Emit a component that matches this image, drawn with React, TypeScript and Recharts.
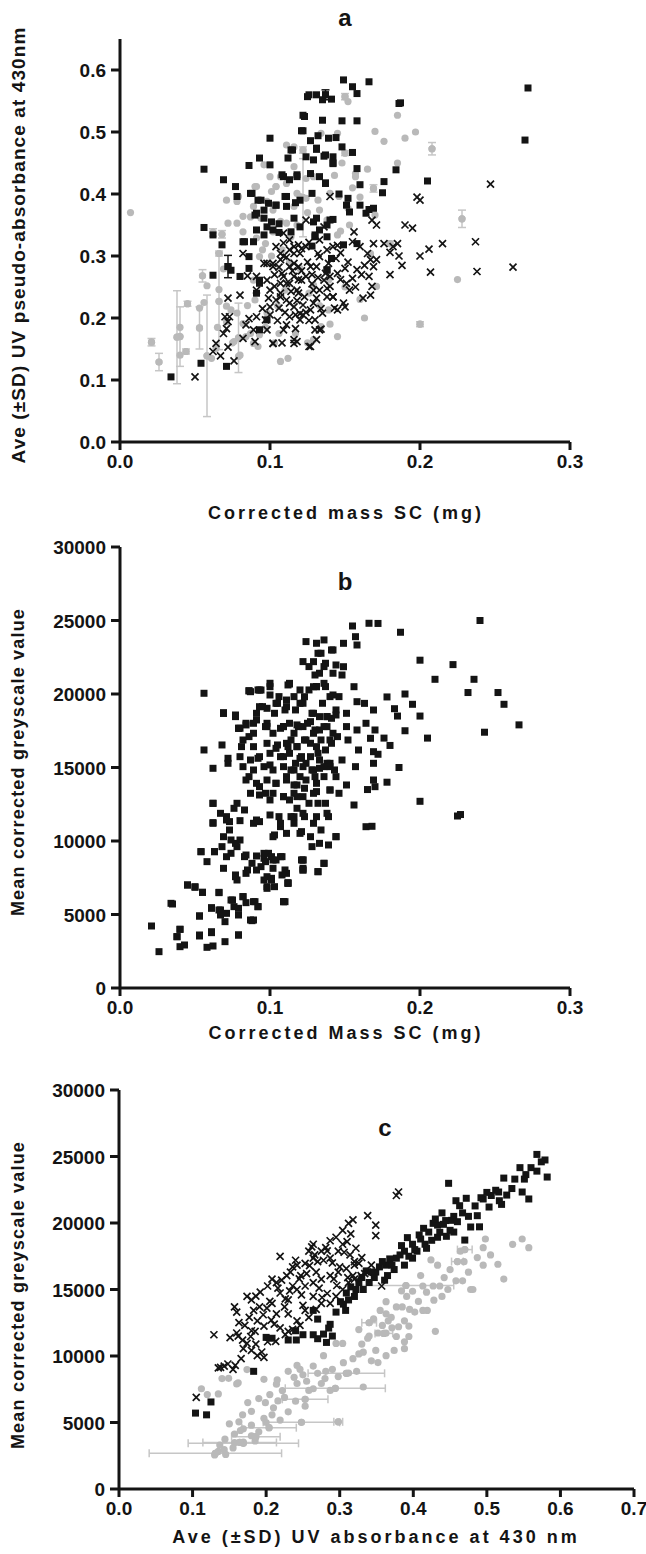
import {ScatterChart, Scatter, XAxis, YAxis, ErrorBar} from 'recharts';

// [x, y] or [x, y, sd]
type Pt = number[];

// panel a: corrected mass SC vs UV pseudo-absorbance
const aSquares: Pt[] = [
    [0.056, 0.44], [0.069, 0.423], [0.077, 0.412], [0.086, 0.446], [0.093, 0.458], [0.1, 0.49], [0.122, 0.502],
    [0.125, 0.557], [0.131, 0.56], [0.135, 0.552], [0.141, 0.553], [0.122, 0.527], [0.135, 0.519], [0.115, 0.471],
    [0.124, 0.46], [0.131, 0.474], [0.137, 0.463], [0.142, 0.449], [0.056, 0.346], [0.062, 0.334], [0.068, 0.318],
    [0.072, 0.283, 0.018], [0.074, 0.277], [0.062, 0.269], [0.078, 0.396], [0.087, 0.401], [0.092, 0.39], [0.096, 0.374],
    [0.091, 0.369], [0.098, 0.347], [0.102, 0.342], [0.096, 0.334], [0.089, 0.323], [0.083, 0.323], [0.104, 0.382],
    [0.11, 0.396], [0.113, 0.423], [0.118, 0.431], [0.108, 0.431], [0.127, 0.433], [0.12, 0.39], [0.128, 0.401],
    [0.133, 0.428], [0.137, 0.417], [0.116, 0.361], [0.12, 0.347], [0.129, 0.355], [0.13, 0.331], [0.133, 0.342],
    [0.14, 0.358], [0.093, 0.256], [0.091, 0.24], [0.098, 0.197], [0.093, 0.181], [0.071, 0.122], [0.054, 0.127],
    [0.034, 0.105], [0.086, 0.299], [0.08, 0.267], [0.138, 0.278], [0.149, 0.584], [0.155, 0.573], [0.166, 0.581],
    [0.158, 0.562], [0.126, 0.56], [0.137, 0.56, 0.008], [0.186, 0.546], [0.123, 0.525], [0.148, 0.518], [0.158, 0.518],
    [0.121, 0.502], [0.127, 0.486], [0.132, 0.494], [0.139, 0.49], [0.144, 0.491], [0.148, 0.476], [0.155, 0.467],
    [0.114, 0.471], [0.112, 0.458], [0.131, 0.472], [0.129, 0.455], [0.136, 0.461], [0.142, 0.46], [0.142, 0.45],
    [0.184, 0.439], [0.1, 0.447], [0.109, 0.428], [0.118, 0.428], [0.137, 0.418], [0.158, 0.441], [0.16, 0.415],
    [0.176, 0.42], [0.175, 0.402], [0.152, 0.393], [0.146, 0.4], [0.151, 0.382], [0.153, 0.371], [0.16, 0.382],
    [0.166, 0.375], [0.169, 0.377], [0.164, 0.369], [0.088, 0.401], [0.094, 0.39], [0.099, 0.385], [0.111, 0.396],
    [0.104, 0.382], [0.111, 0.38], [0.117, 0.386], [0.09, 0.366], [0.096, 0.361], [0.101, 0.355], [0.106, 0.352],
    [0.114, 0.339], [0.131, 0.361], [0.138, 0.35], [0.142, 0.359], [0.091, 0.342], [0.106, 0.338], [0.13, 0.334],
    [0.138, 0.331], [0.082, 0.323], [0.149, 0.318], [0.158, 0.32], [0.128, 0.316], [0.141, 0.296], [0.138, 0.277],
    [0.086, 0.28], [0.093, 0.261], [0.272, 0.571], [0.27, 0.487], [0.205, 0.421], [0.187, 0.547],
];

const aCircles: Pt[] = [
    [0.007, 0.37], [0.021, 0.161, 0.006], [0.026, 0.129, 0.014], [0.038, 0.169, 0.075], [0.04, 0.17, 0.048],
    [0.04, 0.185], [0.04, 0.14], [0.044, 0.146, 0.004], [0.045, 0.223, 0.004], [0.053, 0.216], [0.053, 0.184, 0.034],
    [0.055, 0.268, 0.01], [0.058, 0.252], [0.056, 0.225], [0.058, 0.139, 0.098], [0.061, 0.135], [0.064, 0.151],
    [0.066, 0.227, 0.078], [0.066, 0.246], [0.066, 0.304, 0.004], [0.062, 0.338, 0.006], [0.068, 0.335, 0.006],
    [0.069, 0.279], [0.071, 0.219], [0.074, 0.213], [0.078, 0.208], [0.079, 0.168, 0.056], [0.076, 0.162], [0.08, 0.14],
    [0.065, 0.185], [0.071, 0.194], [0.082, 0.191], [0.084, 0.17], [0.087, 0.175], [0.089, 0.159], [0.092, 0.154],
    [0.071, 0.39], [0.078, 0.388], [0.072, 0.353], [0.078, 0.353], [0.082, 0.339], [0.087, 0.363], [0.089, 0.38],
    [0.091, 0.412], [0.096, 0.447], [0.1, 0.428], [0.101, 0.404], [0.104, 0.412], [0.107, 0.428], [0.111, 0.479],
    [0.116, 0.444], [0.111, 0.417], [0.098, 0.388], [0.102, 0.374], [0.094, 0.361], [0.091, 0.329], [0.097, 0.32],
    [0.102, 0.339], [0.111, 0.353], [0.12, 0.396], [0.116, 0.38], [0.124, 0.425], [0.129, 0.428], [0.122, 0.471, 0.005],
    [0.122, 0.394, 0.063], [0.093, 0.299], [0.099, 0.288], [0.089, 0.261], [0.09, 0.229], [0.098, 0.208], [0.106, 0.175],
    [0.093, 0.173], [0.107, 0.13], [0.112, 0.135], [0.129, 0.165], [0.134, 0.186], [0.139, 0.213], [0.14, 0.401],
    [0.138, 0.358], [0.133, 0.374], [0.116, 0.476], [0.15, 0.557, 0.005], [0.152, 0.549], [0.134, 0.498], [0.145, 0.498],
    [0.17, 0.501], [0.176, 0.485], [0.185, 0.527], [0.15, 0.466, 0.004], [0.169, 0.409, 0.006], [0.157, 0.433],
    [0.157, 0.428], [0.146, 0.396], [0.152, 0.377], [0.124, 0.393], [0.118, 0.401], [0.104, 0.412], [0.09, 0.412],
    [0.079, 0.396], [0.082, 0.364], [0.107, 0.356], [0.114, 0.331], [0.145, 0.334], [0.17, 0.366], [0.18, 0.32, 0.004],
    [0.167, 0.304], [0.171, 0.251], [0.129, 0.253], [0.139, 0.261], [0.079, 0.138], [0.075, 0.16], [0.197, 0.5],
    [0.208, 0.473, 0.01], [0.228, 0.36, 0.014], [0.225, 0.262], [0.2, 0.19, 0.004], [0.19, 0.49], [0.185, 0.45],
    [0.095, 0.31], [0.101, 0.3], [0.108, 0.31], [0.113, 0.29], [0.118, 0.35], [0.125, 0.37], [0.132, 0.39],
    [0.143, 0.43], [0.148, 0.45], [0.155, 0.41], [0.16, 0.395], [0.165, 0.44], [0.147, 0.34], [0.153, 0.35],
    [0.12, 0.28], [0.126, 0.24], [0.133, 0.22], [0.14, 0.19], [0.145, 0.17], [0.15, 0.25], [0.16, 0.23], [0.163, 0.2],
    [0.105, 0.22], [0.11, 0.245], [0.085, 0.22], [0.097, 0.185], [0.103, 0.16], [0.117, 0.175], [0.125, 0.16],
];

const aCrosses: Pt[] = [
    [0.05, 0.105], [0.062, 0.146], [0.067, 0.139], [0.076, 0.131], [0.072, 0.153], [0.064, 0.159], [0.069, 0.175],
    [0.072, 0.194], [0.07, 0.202], [0.073, 0.202], [0.071, 0.183], [0.072, 0.232], [0.08, 0.237], [0.082, 0.167],
    [0.084, 0.189], [0.089, 0.181], [0.09, 0.162], [0.091, 0.202], [0.086, 0.199], [0.082, 0.304], [0.085, 0.268],
    [0.091, 0.245], [0.091, 0.267], [0.096, 0.288], [0.097, 0.197], [0.098, 0.181], [0.1, 0.205], [0.102, 0.159],
    [0.103, 0.251], [0.104, 0.229], [0.107, 0.24], [0.109, 0.181], [0.111, 0.189], [0.108, 0.272], [0.111, 0.256],
    [0.113, 0.283], [0.116, 0.165], [0.117, 0.183], [0.116, 0.218], [0.116, 0.304], [0.119, 0.283], [0.121, 0.261],
    [0.122, 0.205], [0.122, 0.221], [0.119, 0.24], [0.124, 0.358], [0.127, 0.283], [0.129, 0.245], [0.13, 0.197],
    [0.131, 0.165], [0.133, 0.181], [0.127, 0.154], [0.132, 0.304], [0.133, 0.326], [0.136, 0.347], [0.137, 0.272],
    [0.138, 0.234], [0.14, 0.267], [0.142, 0.315], [0.142, 0.234], [0.143, 0.216], [0.14, 0.396], [0.109, 0.337],
    [0.113, 0.326], [0.116, 0.315], [0.107, 0.304], [0.102, 0.283], [0.098, 0.261], [0.1, 0.245], [0.106, 0.216],
    [0.111, 0.229], [0.12, 0.197], [0.113, 0.202], [0.156, 0.339], [0.169, 0.32], [0.168, 0.358], [0.171, 0.35],
    [0.145, 0.317], [0.155, 0.323], [0.16, 0.315], [0.165, 0.304], [0.167, 0.294], [0.171, 0.294], [0.169, 0.283],
    [0.166, 0.267], [0.168, 0.251], [0.167, 0.237], [0.162, 0.232], [0.151, 0.256], [0.155, 0.264], [0.158, 0.278],
    [0.145, 0.272], [0.15, 0.28], [0.14, 0.251], [0.138, 0.248], [0.142, 0.234], [0.149, 0.224], [0.15, 0.218],
    [0.145, 0.213], [0.18, 0.306], [0.182, 0.315], [0.185, 0.32], [0.13, 0.181], [0.134, 0.182], [0.126, 0.154],
    [0.118, 0.162], [0.116, 0.159], [0.108, 0.16], [0.102, 0.159], [0.129, 0.224], [0.133, 0.245], [0.136, 0.261],
    [0.131, 0.283], [0.133, 0.299], [0.138, 0.31], [0.124, 0.315], [0.12, 0.304], [0.116, 0.288], [0.113, 0.31],
    [0.109, 0.321], [0.104, 0.315], [0.107, 0.294], [0.102, 0.288], [0.098, 0.288], [0.109, 0.267], [0.113, 0.256],
    [0.118, 0.245], [0.123, 0.234], [0.127, 0.213], [0.12, 0.207], [0.113, 0.224], [0.107, 0.234], [0.1, 0.218],
    [0.124, 0.267], [0.116, 0.267], [0.107, 0.256], [0.247, 0.416], [0.237, 0.323], [0.238, 0.275], [0.262, 0.282],
    [0.206, 0.311], [0.207, 0.274], [0.198, 0.395], [0.2, 0.39], [0.19, 0.35], [0.195, 0.345], [0.215, 0.32],
    [0.186, 0.3], [0.188, 0.285], [0.176, 0.32], [0.18, 0.27], [0.2, 0.3], [0.111, 0.298], [0.115, 0.276],
    [0.119, 0.262], [0.125, 0.29], [0.128, 0.255], [0.121, 0.312], [0.126, 0.322], [0.114, 0.243], [0.118, 0.228],
    [0.124, 0.209], [0.131, 0.232], [0.135, 0.208], [0.139, 0.288], [0.144, 0.296], [0.147, 0.305], [0.152, 0.29],
    [0.153, 0.245], [0.147, 0.262], [0.103, 0.27], [0.106, 0.282], [0.099, 0.232], [0.095, 0.215], [0.105, 0.196],
    [0.11, 0.209], [0.117, 0.205], [0.126, 0.196], [0.134, 0.215], [0.157, 0.25], [0.161, 0.27], [0.163, 0.285],
    [0.128, 0.27], [0.132, 0.265], [0.121, 0.276], [0.109, 0.3], [0.119, 0.318],
];

// panel b: corrected mass SC vs greyscale
const bSquares: Pt[] = [
    [0.021, 4218], [0.026, 2472], [0.035, 5715], [0.038, 3493], [0.04, 3992], [0.04, 2812], [0.043, 2926], [0.045, 7008],
    [0.05, 6849], [0.053, 4899], [0.053, 3538], [0.055, 6509], [0.054, 9276], [0.056, 20049], [0.056, 16193],
    [0.058, 8596], [0.058, 2767], [0.061, 5466], [0.061, 3765], [0.062, 14946], [0.062, 12565], [0.062, 11250],
    [0.062, 2858], [0.063, 9276], [0.066, 6486], [0.066, 5307], [0.067, 4967], [0.068, 16533], [0.068, 9616],
    [0.069, 18688], [0.069, 8142], [0.07, 4513], [0.07, 3152], [0.071, 11657], [0.072, 15626], [0.072, 15286],
    [0.073, 11318], [0.073, 10750], [0.074, 10070], [0.074, 9163], [0.075, 5987], [0.076, 5534], [0.077, 18461],
    [0.077, 7689], [0.078, 12565], [0.078, 9616], [0.079, 3606], [0.079, 5420], [0.078, 7348], [0.08, 17667],
    [0.08, 11385], [0.081, 16420], [0.082, 6214], [0.083, 12111], [0.083, 8936], [0.084, 5806], [0.085, 8029],
    [0.086, 20208], [0.086, 14379], [0.086, 17101], [0.088, 4581], [0.088, 8482], [0.089, 11204], [0.09, 5874],
    [0.091, 18234], [0.091, 8981], [0.092, 15626], [0.092, 20276], [0.092, 5534], [0.093, 13699], [0.093, 11318],
    [0.094, 8255], [0.095, 19142], [0.096, 8823], [0.097, 8596], [0.097, 13245], [0.098, 18008], [0.098, 6895],
    [0.099, 9163], [0.1, 20730], [0.1, 12792], [0.1, 15173], [0.101, 8936], [0.101, 7348], [0.102, 8142],
    [0.103, 10410], [0.103, 18688], [0.104, 13926], [0.104, 8709], [0.105, 16533], [0.106, 19822], [0.106, 11657],
    [0.107, 17667], [0.107, 10977], [0.108, 8936], [0.108, 7689], [0.109, 15740], [0.109, 13018], [0.109, 5874],
    [0.11, 18915], [0.11, 8029], [0.111, 14379], [0.112, 16420], [0.112, 20616], [0.112, 7167], [0.113, 12792],
    [0.113, 18008], [0.114, 14833], [0.114, 11657], [0.114, 16874], [0.116, 19822], [0.116, 11204], [0.116, 13812],
    [0.117, 15286], [0.117, 18915], [0.118, 16420], [0.118, 12225], [0.118, 13018], [0.119, 17781], [0.12, 20276],
    [0.12, 14379], [0.121, 10637], [0.121, 15740], [0.121, 8709], [0.122, 8029], [0.122, 19369], [0.122, 22204],
    [0.123, 13586], [0.123, 16874], [0.123, 11657], [0.124, 23565], [0.124, 15286], [0.125, 18008], [0.126, 20276],
    [0.126, 21864], [0.126, 12565], [0.127, 16647], [0.128, 14833], [0.128, 18688], [0.128, 9616], [0.129, 11204],
    [0.13, 17554], [0.13, 14379], [0.131, 23451], [0.131, 20503], [0.131, 13359], [0.132, 12565], [0.132, 15966],
    [0.132, 7915], [0.133, 21411], [0.133, 18461], [0.133, 14946], [0.134, 10750], [0.134, 22771], [0.134, 16874],
    [0.135, 19369], [0.136, 23678], [0.136, 21864], [0.136, 14379], [0.137, 16193], [0.137, 12565], [0.137, 20503],
    [0.138, 17781], [0.138, 15286], [0.139, 11657], [0.139, 9730], [0.14, 19822], [0.14, 13472], [0.141, 18348],
    [0.141, 16647], [0.142, 22997], [0.142, 21411], [0.143, 14833], [0.144, 10297], [0.144, 18915], [0.145, 17101],
    [0.146, 13245], [0.146, 19822], [0.155, 24627], [0.166, 24811], [0.157, 23899], [0.158, 23334], [0.149, 23448],
    [0.141, 22994], [0.132, 22770], [0.129, 22200], [0.137, 22091], [0.144, 21974], [0.149, 21857], [0.148, 21293],
    [0.13, 21293], [0.156, 20497], [0.113, 20726], [0.136, 20726], [0.087, 20157], [0.094, 20270], [0.1, 19933],
    [0.129, 20497], [0.142, 19933], [0.158, 19477], [0.163, 19363], [0.169, 18912], [0.151, 18687], [0.144, 18572],
    [0.138, 18460], [0.105, 19363], [0.111, 19590], [0.093, 19137], [0.077, 18572], [0.069, 18687], [0.084, 17896],
    [0.079, 17668], [0.089, 18008], [0.098, 17783], [0.109, 17783], [0.118, 17896], [0.127, 18119], [0.133, 17552],
    [0.142, 17329], [0.151, 17783], [0.158, 17552], [0.164, 18008], [0.17, 17552], [0.167, 16987], [0.169, 16076],
    [0.152, 16871], [0.159, 16191], [0.169, 15285], [0.157, 15058], [0.148, 15511], [0.14, 15058], [0.144, 14377],
    [0.151, 13811], [0.14, 13470], [0.164, 10973], [0.169, 14150], [0.17, 13695], [0.156, 12449], [0.144, 10294],
    [0.136, 8483], [0.132, 7912], [0.122, 8143], [0.122, 8708], [0.112, 7121], [0.109, 5871], [0.101, 7462],
    [0.087, 4626], [0.098, 7572], [0.24, 25000], [0.2, 22300], [0.21, 21000], [0.222, 22000], [0.232, 20100],
    [0.236, 21000], [0.243, 17400], [0.252, 20100], [0.256, 19300], [0.266, 17900], [0.2, 12700], [0.225, 11700],
    [0.227, 11800], [0.19, 20000], [0.185, 18500], [0.187, 24200], [0.172, 24800], [0.178, 19800], [0.183, 19000],
    [0.176, 17000], [0.168, 11000], [0.165, 13500], [0.18, 16500], [0.19, 17500], [0.195, 19300], [0.2, 18500],
    [0.205, 17000], [0.186, 15000], [0.172, 15900], [0.178, 14000],
    [0.086, 20226], [0.093, 20270], [0.1, 20497], [0.113, 20680], [0.123, 19817], [0.131, 20497], [0.069, 18728],
    [0.077, 18524], [0.091, 18687], [0.098, 19027], [0.104, 19367], [0.111, 19137], [0.12, 19367], [0.129, 18687],
    [0.138, 18460], [0.079, 17668], [0.084, 18008], [0.089, 17329], [0.097, 17783], [0.102, 17329], [0.109, 17783],
    [0.116, 17329], [0.122, 17783], [0.129, 17329], [0.136, 17783], [0.082, 16871], [0.089, 16418], [0.098, 16645],
    [0.104, 16304], [0.111, 16645], [0.118, 16418], [0.124, 16871], [0.131, 16418], [0.14, 16871], [0.08, 15737],
    [0.087, 15511], [0.093, 15737], [0.1, 15964], [0.107, 15737], [0.113, 15964], [0.12, 15623], [0.127, 15737],
    [0.133, 15511], [0.14, 15285], [0.082, 15058], [0.089, 14831], [0.096, 15058], [0.102, 14831], [0.109, 15058],
    [0.116, 14831], [0.122, 15058], [0.129, 14831], [0.136, 15058], [0.084, 14150], [0.091, 13924], [0.098, 14150],
    [0.104, 13924], [0.111, 14150], [0.118, 13810], [0.124, 14150], [0.131, 13924], [0.087, 13244], [0.093, 13130],
    [0.102, 13244], [0.109, 13017], [0.116, 13244], [0.122, 13017], [0.129, 13244], [0.062, 12563], [0.076, 12223],
    [0.067, 11883], [0.071, 11429], [0.091, 11429], [0.1, 11770], [0.107, 11203], [0.116, 11656], [0.122, 11883],
    [0.131, 11656], [0.138, 11883], [0.062, 11203], [0.069, 10293], [0.077, 9840], [0.08, 10068], [0.102, 10293],
    [0.111, 10520], [0.12, 10520], [0.127, 10293], [0.133, 9840], [0.054, 9273], [0.063, 9273], [0.071, 8933],
    [0.084, 9046], [0.096, 9160], [0.102, 8706], [0.107, 8933], [0.091, 8026], [0.122, 8706], [0.122, 8026],
    [0.136, 8479], [0.077, 7572], [0.084, 7799], [0.096, 7347], [0.111, 7799], [0.098, 6780], [0.103, 6893],
    [0.112, 7120], [0.045, 7007], [0.05, 6893], [0.055, 6508], [0.066, 6508], [0.034, 5760], [0.061, 5420],
    [0.067, 5306], [0.074, 5986], [0.082, 6213], [0.089, 5873], [0.092, 5533], [0.071, 5080], [0.079, 4966],
    [0.089, 4626], [0.11, 5873], [0.053, 4898], [0.04, 3993], [0.038, 3490], [0.053, 3606], [0.061, 3830],
    [0.079, 3606],
];

// panel c: UV absorbance vs greyscale
const cCrosses: Pt[] = [
    [0.105, 6885], [0.135, 9110], [0.143, 9241], [0.129, 11597], [0.151, 11387], [0.16, 11728], [0.157, 13691],
    [0.16, 13298], [0.163, 12513], [0.174, 14476], [0.18, 14215], [0.183, 13429], [0.191, 13691], [0.188, 12644],
    [0.179, 11466], [0.185, 11859], [0.197, 12251], [0.202, 11073], [0.197, 9895], [0.188, 10026], [0.18, 10419],
    [0.202, 15262], [0.208, 15785], [0.214, 15524], [0.219, 14738], [0.228, 16047], [0.233, 16309], [0.242, 16832],
    [0.253, 16963], [0.264, 17356], [0.264, 18403], [0.281, 18141], [0.287, 18665], [0.295, 18927], [0.304, 19450],
    [0.312, 19974], [0.318, 20236], [0.338, 20550], [0.349, 19843], [0.349, 19058], [0.38, 22330], [0.377, 22068],
    [0.357, 15262], [0.315, 19188], [0.219, 17487], [0.23, 14215], [0.242, 15000], [0.253, 15262], [0.264, 15524],
    [0.275, 15785], [0.287, 16047], [0.298, 16309], [0.309, 16571], [0.32, 16832], [0.264, 14476], [0.275, 13953],
    [0.253, 13429], [0.23, 13168], [0.225, 13691], [0.242, 12644], [0.208, 13953], [0.214, 13168], [0.219, 12120],
    [0.23, 11859], [0.287, 17356], [0.298, 17880], [0.304, 18403], [0.275, 17880], [0.27, 17094], [0.258, 17880],
    [0.247, 16047], [0.236, 15262], [0.287, 13953], [0.295, 14476], [0.304, 15000], [0.312, 15524], [0.32, 15785],
    [0.329, 16047], [0.338, 16309], [0.343, 16832], [0.32, 17094], [0.318, 16047], [0.326, 16963], [0.174, 10942],
    [0.169, 10550], [0.138, 9150], [0.148, 9400], [0.155, 9000], [0.162, 11500], [0.168, 11200], [0.171, 12300],
    [0.177, 12900], [0.186, 14500], [0.192, 14800], [0.196, 13100], [0.201, 13600], [0.205, 14100], [0.207, 12700],
    [0.211, 12400], [0.216, 15100], [0.221, 15700], [0.226, 14300], [0.232, 14900], [0.236, 16700], [0.24, 17200],
    [0.245, 15800], [0.248, 14600], [0.25, 13800], [0.255, 16200], [0.259, 16800], [0.262, 18200], [0.266, 17600],
    [0.268, 16300], [0.272, 15100], [0.278, 17200], [0.283, 17900], [0.29, 17000], [0.292, 15800], [0.296, 15300],
    [0.3, 16700], [0.306, 17800], [0.31, 18600], [0.314, 17600], [0.322, 18100], [0.33, 17400], [0.334, 16200],
    [0.311, 15900], [0.283, 14700], [0.276, 14400], [0.268, 13500], [0.258, 12900], [0.246, 12300], [0.236, 12000],
    [0.226, 11600], [0.213, 11100], [0.194, 10300], [0.186, 10900], [0.18, 11900], [0.166, 9800], [0.158, 9300],
];

const cSquares: Pt[] = [
    [0.104, 5707], [0.119, 5576], [0.125, 6545], [0.183, 8848], [0.208, 11335], [0.23, 11204], [0.241, 11204],
    [0.264, 11597], [0.278, 11649], [0.282, 11021], [0.287, 12382], [0.27, 12775], [0.264, 13429], [0.308, 13429],
    [0.312, 14215], [0.32, 14476], [0.34, 15524], [0.349, 16309], [0.363, 16832], [0.377, 17356], [0.388, 17880],
    [0.399, 18403], [0.41, 18796], [0.421, 19319], [0.433, 19843], [0.444, 20183], [0.455, 20497], [0.467, 20759],
    [0.484, 21283], [0.495, 21806], [0.512, 22461], [0.523, 23377], [0.545, 24162], [0.553, 23639], [0.568, 25157],
    [0.579, 24738], [0.582, 23456], [0.557, 21806], [0.548, 22330], [0.517, 21675], [0.516, 22330], [0.448, 22984],
    [0.458, 21675], [0.472, 21858], [0.47, 18717], [0.49, 19712], [0.487, 20550], [0.455, 19319], [0.399, 17356],
    [0.388, 16832], [0.365, 16047], [0.371, 16832], [0.405, 17880], [0.427, 19974], [0.439, 20759], [0.416, 18403],
    [0.343, 16309], [0.326, 15524], [0.332, 15000], [0.301, 14084], [0.309, 14738], [0.433, 18927], [0.45, 19450],
    [0.506, 22068], [0.534, 22592], [0.56, 24162], [0.568, 23900], [0.285, 12100], [0.295, 13300], [0.305, 13900],
    [0.315, 15200], [0.322, 15000], [0.33, 15900], [0.336, 16400], [0.347, 15900], [0.354, 16700], [0.358, 17100],
    [0.361, 15700], [0.368, 17300], [0.374, 16500], [0.382, 17600], [0.384, 18300], [0.392, 18900], [0.394, 17500],
    [0.402, 18000], [0.408, 19100], [0.414, 19600], [0.418, 18100], [0.425, 18700], [0.43, 20300], [0.436, 19300],
    [0.441, 19900], [0.445, 19000], [0.452, 20200], [0.46, 20100], [0.463, 21300], [0.475, 20500], [0.478, 19700],
    [0.492, 21900], [0.5, 22300], [0.503, 21200], [0.52, 21400], [0.527, 22100], [0.538, 23300], [0.551, 23300],
    [0.574, 24600], [0.2, 11400], [0.24, 11900], [0.25, 11600], [0.27, 11300], [0.29, 11500],
];

const cCircles: Pt[] = [
    [0.112, 7539], [0.135, 7147], [0.149, 8325], [0.162, 7984], [0.174, 8979], [0.197, 8246], [0.214, 7880],
    [0.23, 8848], [0.242, 9293], [0.25, 8586], [0.264, 9241], [0.281, 8848], [0.298, 8455], [0.312, 8717],
    [0.323, 8848], [0.332, 7670], [0.264, 7539], [0.275, 7932], [0.287, 7408], [0.242, 7932], [0.225, 6885],
    [0.216, 6623], [0.199, 6492], [0.18, 5838], [0.168, 5576], [0.197, 5314], [0.208, 5576], [0.219, 5183],
    [0.163, 5052], [0.169, 4529], [0.157, 4136], [0.18, 4005], [0.144, 3743], [0.157, 3482], [0.169, 3534],
    [0.185, 3613], [0.13, 2565], [0.135, 2827], [0.143, 2958], [0.155, 3089], [0.298, 5052, 0.006], [0.253, 6230],
    [0.258, 7408], [0.278, 10026], [0.295, 10942], [0.304, 10942], [0.326, 10157], [0.332, 10288], [0.326, 11990],
    [0.338, 11335], [0.352, 11728], [0.363, 11728], [0.377, 11466], [0.388, 11073], [0.394, 11466], [0.349, 10419],
    [0.352, 9503], [0.343, 9634], [0.363, 10026], [0.374, 10419], [0.388, 10550], [0.363, 13168], [0.377, 13691],
    [0.385, 13691], [0.355, 13429], [0.363, 14084], [0.366, 12644], [0.371, 12120], [0.388, 12644], [0.394, 12251],
    [0.391, 14476], [0.399, 14869], [0.41, 16047], [0.413, 15262], [0.427, 15262], [0.436, 15262], [0.447, 15000],
    [0.439, 14476], [0.424, 17225], [0.433, 16832], [0.419, 13429], [0.413, 13429], [0.43, 11859], [0.458, 15654],
    [0.467, 15654], [0.478, 15000], [0.481, 15000], [0.469, 17094], [0.464, 17880], [0.495, 16832], [0.495, 18141],
    [0.498, 18796], [0.523, 15785], [0.548, 18796], [0.557, 18141], [0.131, 2684, 0.09], [0.169, 3436, 0.075],
    [0.164, 3500, 0.05], [0.186, 3934, 0.033], [0.204, 4610, 0.037], [0.248, 5012, 0.052], [0.253, 6744, 0.031],
    [0.294, 7572, 0.068], [0.309, 8699, 0.052], [0.39, 15300, 0.065], [0.34, 12500, 0.01], [0.36, 11700, 0.012],
    [0.46, 17100, 0.008], [0.47, 18000, 0.01], [0.12, 7100], [0.14, 8300], [0.16, 7900], [0.175, 6500], [0.19, 6800],
    [0.205, 7100], [0.215, 8200], [0.222, 7400], [0.238, 8400], [0.246, 9000], [0.255, 8100], [0.27, 8700],
    [0.28, 8300], [0.29, 9000], [0.305, 9500], [0.318, 9800], [0.33, 10900], [0.34, 11500], [0.346, 12800],
    [0.358, 12300], [0.37, 12900], [0.38, 12200], [0.384, 14900], [0.395, 13500], [0.402, 13300], [0.407, 14100],
    [0.418, 14800], [0.428, 14200], [0.442, 15900], [0.45, 16500], [0.475, 16300], [0.487, 17400], [0.505, 17600],
    [0.515, 16900], [0.535, 18400], [0.18, 4800], [0.2, 5000], [0.21, 6100], [0.23, 5800], [0.24, 6600],
    [0.15, 4900], [0.137, 3300], [0.145, 2600], [0.165, 4400], [0.19, 4300],
];

const xTicksMass = [0, 0.1, 0.2, 0.3];
const yTicksA = [0, 0.1, 0.2, 0.3, 0.4, 0.5, 0.6];
const yTicksGrey = [0, 5000, 10000, 15000, 20000, 25000, 30000];
const xTicksUv = [0, 0.1, 0.2, 0.3, 0.4, 0.5, 0.6, 0.7];

const INK = '#141414';
const GREY = '#b9b9b9';
const GREY_BAR = '#c6c6c6';
const SANS = "'Liberation Sans', Arial, sans-serif";

const rows = (pts: Pt[]) => pts.map(([x, y, e]) => ({x, y, e}));
const withSd = (pts: Pt[]) => rows(pts.filter((p) => p[2]));

const Square = (p: any) => <rect x={p.cx - 3.5} y={p.cy - 3.5} width={7} height={7} fill={INK} />;
const Dot = (p: any) => <circle cx={p.cx} cy={p.cy} r={3.6} fill={GREY} />;
const Cross = (p: any) => (
    <path
        d={`M${p.cx - 3.5},${p.cy - 3.5}L${p.cx + 3.5},${p.cy + 3.5}M${p.cx + 3.5},${p.cy - 3.5}L${p.cx - 3.5},${p.cy + 3.5}`}
        stroke={INK}
        strokeWidth={1.7}
        fill='none'
    />
);

const axisLine = {stroke: INK, strokeWidth: 3};
const tickLine = {stroke: INK, strokeWidth: 3};

const one = (v: number) => v.toFixed(1);
const plain = (v: number) => String(v);

// tick labels drawn by hand so the bold face and size stick
const xTick = (fmt: (v: number) => string) => (p: any) => (
    <text x={p.x} y={p.y} dy={15} textAnchor='middle' fill={INK} fontSize={19} fontWeight='bold' fontFamily={SANS}>
        {fmt(p.payload.value)}
    </text>
);
const yTick = (fmt: (v: number) => string) => (p: any) => (
    <text x={p.x} y={p.y} dy={7} textAnchor='end' fill={INK} fontSize={19} fontWeight='bold' fontFamily={SANS}>
        {fmt(p.payload.value)}
    </text>
);

function Label({x, y, text, size = 18, rotate = false, spacing = 0}: any) {
    return (
        <div
            style={{
                position: 'absolute',
                left: x,
                top: y,
                transform: `translate(-50%, -50%)${rotate ? ' rotate(-90deg)' : ''}`,
                whiteSpace: 'nowrap',
                fontFamily: SANS,
                fontWeight: 700,
                fontSize: size,
                letterSpacing: spacing,
                color: INK,
                lineHeight: 1,
            }}
        >
            {text}
        </div>
    );
}

export default function App() {
    return (
        <div style={{position: 'absolute', left: 0, top: 0, width: 646, height: 1554, background: '#fff'}}>
            {/* panel a */}
            <div style={{position: 'absolute', left: 0, top: 0}}>
                <ScatterChart width={646} height={530} margin={{top: 39, right: 76, bottom: 0, left: 0}}>
                    <XAxis type='number' dataKey='x' domain={[0, 0.3]} ticks={xTicksMass} tick={xTick(one)}
                           axisLine={axisLine} tickLine={tickLine} tickSize={8} tickMargin={3} height={88} />
                    <YAxis type='number' dataKey='y' domain={[0, 0.65]} ticks={yTicksA} tick={yTick(one)}
                           axisLine={axisLine} tickLine={tickLine} tickSize={9} tickMargin={5} width={120} />
                    <Scatter data={rows(aCircles)} shape={Dot} isAnimationActive={false} />
                    <Scatter data={withSd(aCircles)} shape={Dot} isAnimationActive={false}>
                        <ErrorBar dataKey='e' direction='y' width={4} stroke={GREY_BAR} strokeWidth={1.5} />
                    </Scatter>
                    <Scatter data={rows(aSquares)} shape={Square} isAnimationActive={false} />
                    <Scatter data={withSd(aSquares)} shape={Square} isAnimationActive={false}>
                        <ErrorBar dataKey='e' direction='y' width={4} stroke={INK} strokeWidth={1.5} />
                    </Scatter>
                    <Scatter data={rows(aCrosses)} shape={Cross} isAnimationActive={false} />
                </ScatterChart>
                <Label x={345} y={18} text='a' size={24} />
                <Label x={346} y={513} text='Corrected mass SC (mg)' spacing={3} />
                <Label x={18} y={245} text='Ave (±SD) UV pseudo-absorbance at 430nm' size={19} spacing={1.1} rotate />
            </div>

            {/* panel b */}
            <div style={{position: 'absolute', left: 0, top: 530}}>
                <ScatterChart width={646} height={510} margin={{top: 17, right: 76, bottom: 0, left: 0}}>
                    <XAxis type='number' dataKey='x' domain={[0, 0.3]} ticks={xTicksMass} tick={xTick(one)}
                           axisLine={axisLine} tickLine={tickLine} tickSize={8} tickMargin={3} height={52} />
                    <YAxis type='number' dataKey='y' domain={[0, 30000]} ticks={yTicksGrey} tick={yTick(plain)}
                           axisLine={axisLine} tickLine={tickLine} tickSize={9} tickMargin={5} width={120} />
                    <Scatter data={rows(bSquares)} shape={Square} isAnimationActive={false} />
                </ScatterChart>
                <Label x={345} y={52} text='b' size={24} />
                <Label x={346} y={503} text='Corrected Mass SC (mg)' spacing={3} />
                <Label x={18} y={232} text='Mean corrected greyscale value' spacing={1.2} rotate />
            </div>

            {/* panel c */}
            <div style={{position: 'absolute', left: 0, top: 1040}}>
                <ScatterChart width={646} height={514} margin={{top: 50, right: 12, bottom: 0, left: 0}}>
                    <XAxis type='number' dataKey='x' domain={[0, 0.7]} ticks={xTicksUv} tick={xTick(one)}
                           axisLine={axisLine} tickLine={tickLine} tickSize={8} tickMargin={3} height={65} />
                    <YAxis type='number' dataKey='y' domain={[0, 30000]} ticks={yTicksGrey} tick={yTick(plain)}
                           axisLine={axisLine} tickLine={tickLine} tickSize={9} tickMargin={5} width={119} />
                    <Scatter data={rows(cCircles)} shape={Dot} isAnimationActive={false} />
                    <Scatter data={withSd(cCircles)} shape={Dot} isAnimationActive={false}>
                        <ErrorBar dataKey='e' direction='x' width={4} stroke={GREY_BAR} strokeWidth={1.5} />
                    </Scatter>
                    <Scatter data={rows(cSquares)} shape={Square} isAnimationActive={false} />
                    <Scatter data={rows(cCrosses)} shape={Cross} isAnimationActive={false} />
                </ScatterChart>
                <Label x={385} y={88} text='c' size={24} />
                <Label x={376} y={497} text='Ave (±SD) UV absorbance at 430 nm' spacing={3} />
                <Label x={18} y={255} text='Mean corrected greyscale value' spacing={1.2} rotate />
            </div>
        </div>
    );
}
